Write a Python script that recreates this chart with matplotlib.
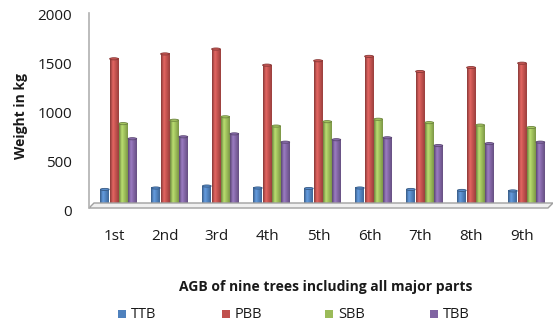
import matplotlib.pyplot as plt
import numpy as np
from matplotlib.colors import LinearSegmentedColormap, to_rgb
from matplotlib.patches import Ellipse, Polygon, Rectangle
from matplotlib.transforms import ScaledTranslation

trees = ['1st', '2nd', '3rd', '4th', '5th', '6th', '7th', '8th', '9th']
ttb = [180, 195, 215, 195, 190, 195, 180, 170, 165]
pbb = [1520, 1570, 1620, 1455, 1500, 1545, 1390, 1430, 1475]
sbb = [855, 890, 925, 830, 875, 900, 865, 840, 815]
tbb = [700, 720, 750, 665, 690, 710, 630, 650, 665]

series = [('TTB', ttb, '#4F81BD'), ('PBB', pbb, '#C0504D'),
          ('SBB', sbb, '#9BBB59'), ('TBB', tbb, '#8064A2')]

W, H = 553, 324
fig = plt.figure(figsize=(W / 100, H / 100), dpi=100)
plt.rcParams['font.family'] = ['Open Sans', 'DejaVu Sans']
txt = '#1a1a1a'


def px(x, y):
    return x / W, 1 - y / H


# plot area in pixels: left 89, right 548, zero line at 207, 2000 at 12
ax = fig.add_axes([89 / W, (H - 207) / H, 459 / W, 195 / H])
ax.set_facecolor('none')
for s in ax.spines.values():
    s.set_visible(False)


def shade(color):
    r, g, b = to_rgb(color)
    dark = (r * 0.7, g * 0.7, b * 0.7)
    light = tuple(min(1, c * 1.12 + 0.05) for c in (r, g, b))
    return LinearSegmentedColormap.from_list(
        'cyl', [dark, light, (r, g, b), (r * 0.8, g * 0.8, b * 0.8)])


bw = 0.18
x = np.arange(len(trees))
grad = np.linspace(0, 1, 64).reshape(1, -1)
for i, (name, vals, color) in enumerate(series):
    cmap = shade(color)
    xs = x + 0.08 + (i - 1.5) * bw
    for xc, v in zip(xs, vals):
        x0, x1 = xc - bw / 2 + 0.004, xc + bw / 2 - 0.004
        ax.imshow(grad, cmap=cmap, extent=(x0, x1, 0, v), aspect='auto',
                  zorder=3, interpolation='bilinear')
        ax.add_patch(Ellipse((xc, v), x1 - x0, 22,
                             facecolor=cmap(0.55), edgecolor=cmap(0.0),
                             lw=0.6, zorder=4))

ax.set_xlim(-0.5, len(trees) - 0.5)
ax.set_ylim(0, 2000)
ax.set_xticks(x)
ax.set_xticklabels(trees, fontsize=11, color=txt)
ax.tick_params(axis='x', length=0, pad=16)
ax.set_yticks([0, 500, 1000, 1500, 2000])
ax.tick_params(axis='y', length=0, pad=12, labelsize=11, labelcolor=txt)
for lab in ax.get_yticklabels():
    lab.set_transform(lab.get_transform()
                      + ScaledTranslation(0, -0.03, fig.dpi_scale_trans))

# wall line and thin floor
fig.add_artist(plt.Line2D([89 / W, 89 / W], [px(0, 13)[1], px(0, 208)[1]],
                          color='#b0b0b0', lw=1.2))
floor = Polygon([px(89, 208), px(548, 208), px(553, 203), px(94, 203)],
                closed=True, facecolor='#f0f0f0', edgecolor='#a0a0a0',
                lw=1.0, transform=fig.transFigure, zorder=1)
fig.add_artist(floor)

fig.text(*px(21, 116), 'Weight in kg', rotation=90, ha='center', va='center',
         fontsize=10, fontweight='bold', color=txt)
fig.text(*px(326, 287), 'AGB of nine trees including all major parts',
         ha='center', va='center', fontsize=10, fontweight='bold', color=txt)

# legend row
for (name, _, color), lx in zip(series, [118, 222, 325, 430]):
    fig.add_artist(Rectangle(px(lx, 318), 8 / W, 8 / H, facecolor=color,
                             transform=fig.transFigure))
    fig.text(*px(lx + 13, 314), name, ha='left', va='center',
             fontsize=10.5, color=txt)

fig.savefig('out.png', dpi=100)
